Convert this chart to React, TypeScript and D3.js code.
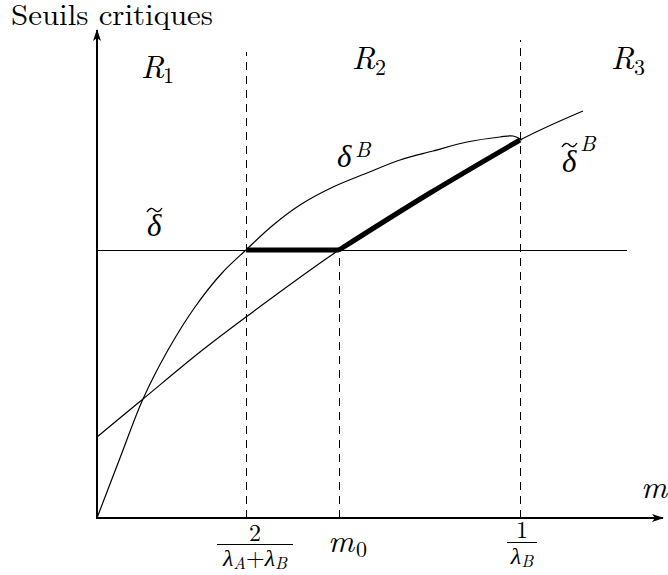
import React from "react";
import * as d3 from "d3";

// Regime boundaries on the m axis
const mLow = 1.49; // 2 / (λA + λB)
const mZero = 2.42; // m0
const mHigh = 4.23; // 1 / λB

// Constant threshold δ̃
const deltaTildeLevel = 2.68;
const deltaTildeEnd = 5.3;

// Threshold δ^B (concave, meets δ̃^B at 1/λB)
const deltaBM = [0, 0.23, 0.46, 0.71, 0.98, 1.25, 1.49, 1.75, 2.03, 2.36, 2.7, 3.03, 3.36, 3.7, 4.03, 4.16, 4.25];
const deltaBV = [0, 0.6, 1.19, 1.68, 2.11, 2.45, 2.68, 2.92, 3.13, 3.31, 3.45, 3.58, 3.67, 3.76, 3.81, 3.82, 3.78];

// Threshold δ̃^B
const deltaTildeBM = [0, 0.46, 1.03, 1.49, 2.42, 3.33, 4.23, 4.86];
const deltaTildeBV = [0.81, 1.19, 1.66, 2.01, 2.68, 3.25, 3.78, 4.07];

// Tops of the dashed separators
const dashTopLow = 4.66;
const dashTopHigh = 4.78;

const W = 668;
const H = 575;

const x = d3.scaleLinear().domain([0, 5.66]).range([97, 663]);
const y = d3.scaleLinear().domain([0, 4.88]).range([518, 30]);

type P = [number, number];
const zip = (a: number[], b: number[]): P[] => a.map((v, i) => [v, b[i]]);

const curve = d3
  .line<P>()
  .x((d) => x(d[0]))
  .y((d) => y(d[1]))
  .curve(d3.curveCatmullRom.alpha(0.5));

const straight = d3
  .line<P>()
  .x((d) => x(d[0]))
  .y((d) => y(d[1]));

const deltaB = zip(deltaBM, deltaBV);
const deltaTildeB = zip(deltaTildeBM, deltaTildeBV);
const boldPart = deltaTildeB.filter((d) => d[0] >= mZero - 1e-9 && d[0] <= mHigh + 1e-9);

const roman: React.CSSProperties = { fontFamily: "Latin Modern Roman", fontStyle: "normal" };
const italic: React.CSSProperties = { fontFamily: "Latin Modern Roman", fontStyle: "italic" };

function Tilde({ cx, cy, w }: { cx: number; cy: number; w: number }) {
  const p = d3.path();
  p.moveTo(cx - w / 2, cy + 2);
  p.quadraticCurveTo(cx - w / 4, cy - 4, cx, cy);
  p.quadraticCurveTo(cx + w / 4, cy + 4, cx + w / 2, cy - 2);
  return <path d={p.toString()} fill="none" stroke="#000" strokeWidth={1.4} />;
}

export default function App() {
  return (
    <svg width={W} height={H} style={{ position: "absolute", left: 0, top: 0, background: "#fff" }}>
      <defs>
        <marker
          id="arrow"
          viewBox="0 0 12 8"
          refX={11}
          refY={4}
          markerWidth={12}
          markerHeight={8}
          markerUnits="userSpaceOnUse"
          orient="auto"
        >
          <path d="M0,0 L12,4 L0,8 L3,4 Z" fill="#000" />
        </marker>
      </defs>

      {/* dashed separators */}
      <g stroke="#000" strokeWidth={1} strokeDasharray="8,6" fill="none" shapeRendering="crispEdges">
        <line x1={x(mLow)} x2={x(mLow)} y1={y(0)} y2={y(dashTopLow)} />
        <line x1={x(mZero)} x2={x(mZero)} y1={y(0)} y2={y(deltaTildeLevel)} />
        <line x1={x(mHigh)} x2={x(mHigh)} y1={y(0)} y2={y(dashTopHigh)} />
      </g>

      {/* δ̃ level */}
      <line
        x1={x(0)}
        x2={x(deltaTildeEnd)}
        y1={y(deltaTildeLevel)}
        y2={y(deltaTildeLevel)}
        stroke="#000"
        strokeWidth={1}
        shapeRendering="crispEdges"
      />

      {/* curves */}
      <path d={curve(deltaB) ?? ""} fill="none" stroke="#000" strokeWidth={1.2} />
      <path d={curve(deltaTildeB) ?? ""} fill="none" stroke="#000" strokeWidth={1.2} />

      {/* bold path of the effective threshold */}
      <path
        d={
          straight([
            [mLow, deltaTildeLevel],
            [mZero, deltaTildeLevel],
          ]) ?? ""
        }
        fill="none"
        stroke="#000"
        strokeWidth={5}
      />
      <path d={curve(boldPart) ?? ""} fill="none" stroke="#000" strokeWidth={5} strokeLinejoin="round" />

      {/* axes */}
      <line x1={x(0)} y1={y(0)} x2={x(5.66)} y2={y(0)} stroke="#000" strokeWidth={2} markerEnd="url(#arrow)" />
      <line x1={x(0)} y1={y(0) + 1} x2={x(0)} y2={y(4.88)} stroke="#000" strokeWidth={2} markerEnd="url(#arrow)" />

      {/* title of the vertical axis */}
      <text x={11} y={25} fontSize={29} style={roman} textLength={202} lengthAdjust="spacingAndGlyphs">
        Seuils critiques
      </text>

      {/* regime labels */}
      <text y={78} fontSize={32} style={italic}>
        <tspan x={141}>R</tspan>
        <tspan x={163} dy={5} fontSize={22} style={roman}>1</tspan>
      </text>
      <text y={69} fontSize={32} style={italic}>
        <tspan x={352}>R</tspan>
        <tspan x={375} dy={6} fontSize={22} style={roman}>2</tspan>
      </text>
      <text y={69} fontSize={32} style={italic}>
        <tspan x={611}>R</tspan>
        <tspan x={634} dy={6} fontSize={22} style={roman}>3</tspan>
      </text>

      {/* curve labels */}
      <text x={147} y={236} fontSize={31} style={italic}>δ</text>
      <Tilde cx={154.5} cy={210} w={15} />

      <text y={167} fontSize={31} style={italic}>
        <tspan x={337}>δ</tspan>
        <tspan x={355} y={157} fontSize={22}>B</tspan>
      </text>

      <text y={172} fontSize={31} style={italic}>
        <tspan x={562}>δ</tspan>
        <tspan x={580} y={151} fontSize={22}>B</tspan>
      </text>
      <Tilde cx={569.5} cy={145} w={15} />

      {/* axis label */}
      <text x={641} y={498} fontSize={32} style={italic}>m</text>

      {/* tick labels */}
      <text x={255} y={541} fontSize={24} textAnchor="middle" style={roman}>2</text>
      <line x1={217} x2={293} y1={544.5} y2={544.5} stroke="#000" strokeWidth={1} />
      <text x={255} y={566} fontSize={24} textAnchor="middle" style={italic}>
        <tspan>λ</tspan>
        <tspan fontSize={17} dy={3}>A</tspan>
        <tspan style={roman} dy={-3}>+</tspan>
        <tspan>λ</tspan>
        <tspan fontSize={17} dy={3}>B</tspan>
      </text>

      <text y={552} fontSize={32} style={italic}>
        <tspan x={328}>m</tspan>
        <tspan x={356} dy={5} fontSize={22} style={roman}>0</tspan>
      </text>

      <text x={522} y={538} fontSize={24} textAnchor="middle" style={roman}>1</text>
      <line x1={507} x2={537} y1={542.5} y2={542.5} stroke="#000" strokeWidth={1} />
      <text x={522} y={564} fontSize={24} textAnchor="middle" style={italic}>
        <tspan>λ</tspan>
        <tspan fontSize={17} dy={3}>B</tspan>
      </text>
    </svg>
  );
}
